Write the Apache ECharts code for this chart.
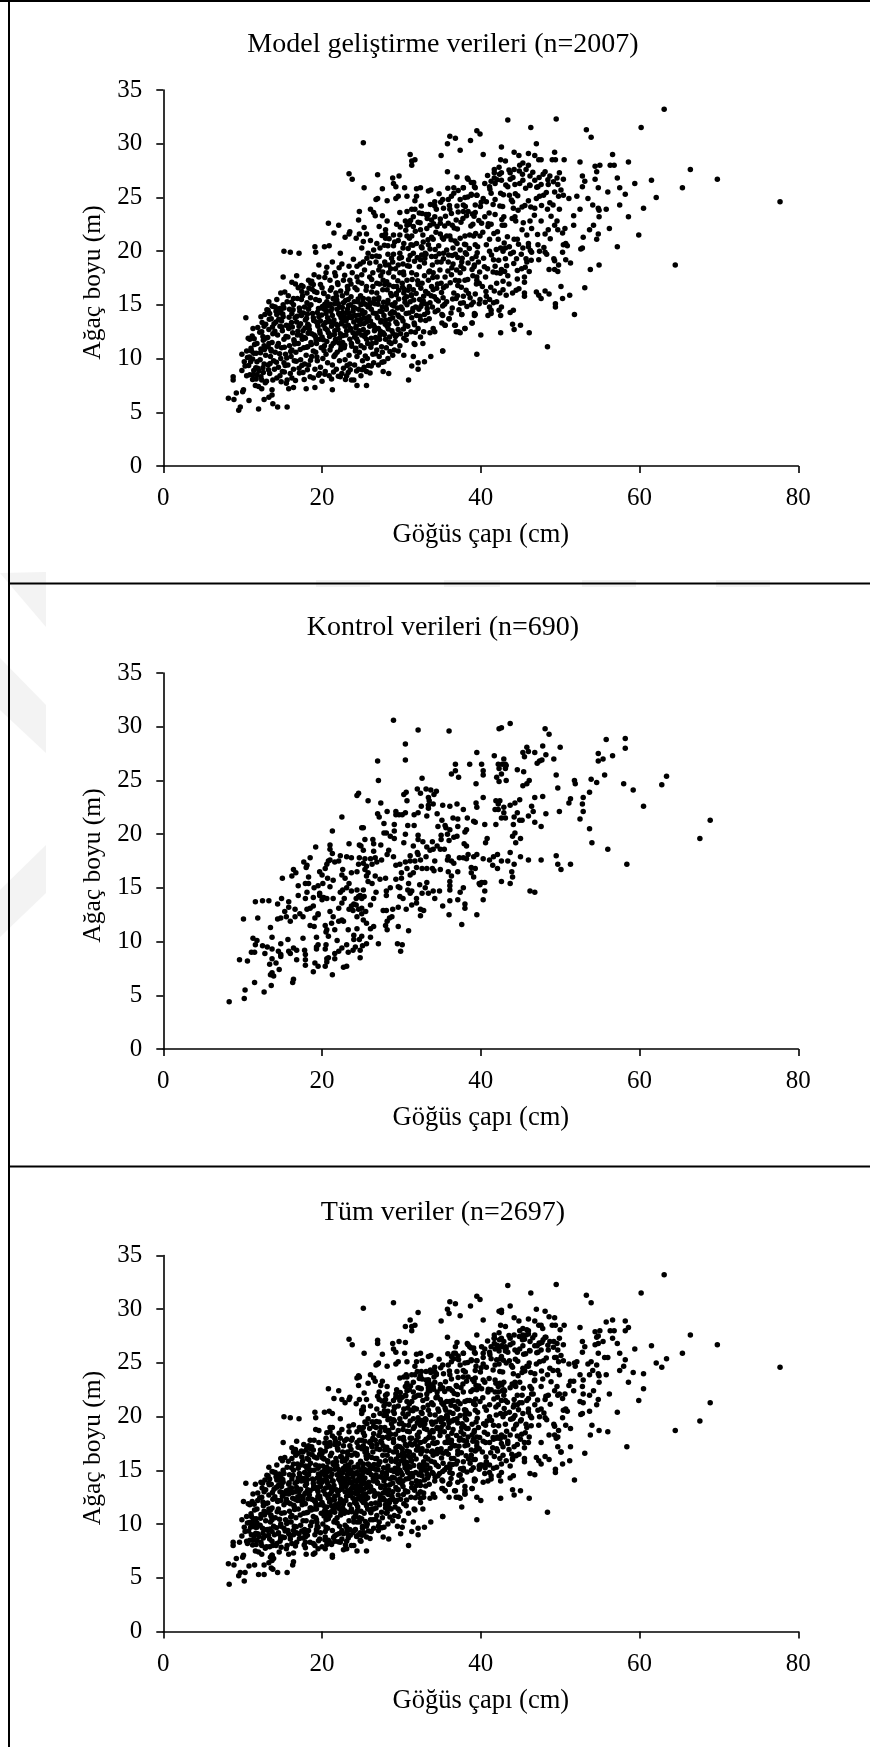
<!DOCTYPE html>
<html><head><meta charset="utf-8">
<style>html,body{margin:0;padding:0;background:#fff}#c{width:870px;height:1747px}</style>
<script src="https://cdn.jsdelivr.net/npm/echarts@6/dist/echarts.min.js"></script>
</head><body><div id="c"></div>
<script>
const titles = ["Model geliştirme verileri (n=2007)", "Kontrol verileri (n=690)", "Tüm veriler (n=2697)"];
const xName = "Göğüs çapı (cm)";
const yName = "Ağaç boyu (m)";

// Kontrol verileri: göğüs çapı (cm), ağaç boyu (m)
const kontrolPoints = [
[29,30.6],[32.1,29.7],[36,29.6],[30.5,28.4],[39.5,27.6],[27,26.8],[30.5,26.9],[36.8,26.5],[38.6,26.5],[36.3,25.6],[36.8,25.9],[37.2,25.3],[27.1,25],[32.6,25.2],[39.4,24.7],[32,24.2],[32.4,23.8],[33.1,24.2],[33.7,24.1],[34.4,24],[34.1,23.7],[24.4,23.6],[24.6,23.8],[25.8,23.1],[30.3,23.7],[30.6,23.9],[30.7,23.1],[27.4,22.9],[33.4,23.4],[33.5,23.1],[34,22.8],[32.5,22.6],[33.4,22.4],[33.4,22.7],[35.2,22.7],[36.1,22.6],[37,22.8],[37.8,22.3],[39.4,22.9],[39.5,22.5],[28.2,22.1],[27,21.9],[27.2,21.6],[29.3,22.1],[29.3,21.8],[29.7,21.8],[30.1,21.8],[30.5,22],[31.6,21.8],[32.1,22],[33.2,21.7],[34.5,21.9],[22.5,21.6],[35.1,21.3],[36.5,21.5],[37.1,21.4],[38.3,21.5],[39.1,21.2],[39.3,21.1],[27.8,21],[29.1,20.9],[30.8,20.8],[31.6,20.8],[25.2,20.6],[25,20.6],[34.6,20.7],[35.5,20.8],[35.6,20.6],[36.1,20.4],[37.1,20.7],[38.2,20.4],[38,20.2],[21.3,20.3],[27.8,20.1],[28.1,20.1],[29.1,20.3],[30.5,20],[28.6,19.8],[29.1,19.6],[32.1,19.9],[32.1,19.5],[35,19.9],[35,19.5],[35.8,20],[36,19.4],[36.6,19.7],[37,19.8],[25.4,19.5],[26.4,19.5],[26.5,19.1],[21,19],[21,18.6],[21.3,18.2],[19.2,18.8],[23.4,19.1],[24.7,19],[24.9,18.9],[25.2,18.5],[27.4,19],[30.3,19.2],[31.5,18.9],[32.7,19.3],[33.9,19.3],[33.2,18.8],[33.6,18.5],[34,18.6],[34.5,18.9],[34.9,18.6],[35.4,18.6],[37.9,19.1],[38.2,18.9],[26.5,18.4],[28.4,18.5],[28.2,18.1],[29,17.9],[32,18.3],[32.1,18.1],[31.1,18],[38.4,18.1],[39.5,18.1],[39.1,17.9],[18.5,17.8],[22.3,18],[23.1,17.9],[23.7,17.8],[24.7,17.8],[25.4,17.7],[26.1,17.7],[26.7,17.8],[27.5,17.6],[26.9,17.4],[21,17.6],[20.8,17.5],[20.6,17.2],[20.4,16.8],[21.6,17.4],[22.1,17.5],[33.1,17.9],[32.4,17.6],[35.9,17.9],[35.8,17.6],[36.3,17.5],[36.6,17.3],[37.3,17.8],[37.8,17.8],[38.2,17.7],[29.3,17.1],[29.8,17.2],[30.5,17.4],[31.1,17.5],[31.7,17.5],[34.2,17.5],[17.7,17.4],[18.1,17.1],[18,16.9],[24.6,17.2],[25.2,17.3],[25.6,17],[26.3,17.2],[25.4,16.7],[30.7,16.8],[31.9,16.9],[32.6,16.8],[33.2,16.8],[33.9,16.8],[34.1,16.6],[34.9,16.7],[16.4,16.7],[16.7,16.4],[16.2,16.1],[15,15.9],[18.3,16],[19.7,16.5],[20,16.2],[20.7,15.9],[21.4,15.7],[22.6,16.7],[22.5,16.2],[22.9,15.9],[23.4,15.4],[23.7,16.4],[24.4,16.5],[25.8,16.4],[25.6,16.1],[26.3,15.4],[25.8,15.6],[26.7,16.1],[27.3,15.8],[28,15.9],[30,16.4],[31.1,16.2],[31.5,16.4],[29.3,15.8],[30,15.9],[35.9,16.5],[36.3,16.1],[37.1,16.5],[38.8,16.9],[39.3,16.8],[38.8,16.4],[39.1,16],[39.8,15.4],[36.1,15.6],[36.1,15.2],[36.1,14.8],[37.8,15],[37.4,14.6],[17,15.2],[17.9,15.4],[18.3,15.4],[19,15],[19.5,15.2],[20.1,15.4],[21,15.1],[22.6,14.8],[23.1,15],[22.3,14.6],[24.4,14.8],[25.2,14.8],[24.8,14.3],[24.3,14],[23.7,14.7],[26.8,14.6],[26.5,14],[28.6,15],[28.1,14.7],[28.1,14.3],[29.6,15.1],[29.8,15],[30.9,15.4],[30.8,14.8],[31.3,14.7],[32.3,15.3],[33.2,15.5],[33,15],[32.6,14.5],[33.4,14.5],[34,14.7],[34.8,14.7],[17,14.3],[17.9,14],[18.1,14.6],[18.9,14.1],[19.7,14.3],[20.2,14.1],[20.6,14],[21.4,14],[22.8,14],[22.5,13.6],[22.1,13.1],[29.8,14.2],[30.2,14],[29.6,13.2],[30.6,13],[31.1,14.5],[31.9,14],[31.3,13.4],[31.9,13.6],[34.2,14],[36.1,13.8],[37.1,13.9],[35.2,13.3],[38,13.5],[38,13.1],[11.6,13.7],[12.5,13.8],[13.3,13.8],[14.4,13.5],[14.9,14],[15.8,13.7],[15.8,13.2],[15.3,12.8],[10.1,12.1],[11.9,12.2],[14.4,12.1],[14.8,12.2],[15.5,12.3],[16,11.9],[16.6,13],[16.6,12.3],[17.2,12.6],[17.6,12.3],[18.1,13],[18.5,13.1],[18.9,13.3],[19.1,12.2],[19.5,12.5],[19.5,12.6],[21,12.8],[21.4,12.3],[22.1,11.9],[22.7,11.9],[23.4,13],[23.9,12.9],[24.4,12.3],[25,12.6],[25.2,12],[26.1,13.4],[27.7,12.9],[28.1,12.9],[28.9,13],[28.8,12.3],[28.5,12.2],[28.2,11.9],[32.4,13],[32.8,12.9],[32.4,12.4],[36,12.5],[39.5,12.5],[37.6,11.6],[25.6,11.7],[26.5,11.4],[26.1,11.2],[28,11.5],[28.2,11.1],[29.6,11.4],[30.9,11],[13.5,11.3],[18.5,11.5],[19,11.4],[20.4,11.5],[20.6,11.1],[20.5,10.9],[20.8,10.5],[21.2,11.7],[21.6,11.1],[22.5,12],[23.3,11.1],[24.4,11.2],[11.3,10.3],[11.8,10.1],[11.6,9.7],[13.7,10.4],[15.7,10.2],[14.8,9.8],[17.6,10.3],[19.3,10.4],[24,10.6],[25,10.5],[24,10.2],[24.7,10.2],[26.1,10.4],[21.9,10.1],[23.1,9.7],[19.5,9.7],[20.5,9.7],[25.6,9.8],[25.1,9.6],[27.1,9.8],[29.5,9.8],[30.1,9.7],[29.9,9.1],[12.5,9.6],[13.1,9.5],[11.1,9],[11.5,9],[12.8,8.9],[13.7,9.3],[14.5,9.1],[14.8,8.8],[15.8,9.1],[16,8.9],[16.4,9.4],[16.8,9.2],[16.8,8.3],[17.8,9.2],[17.9,8.8],[19.3,9.3],[20.4,9.3],[19.3,9.5],[21.6,8.9],[22.1,9.1],[22.5,9.4],[21.6,8.4],[20.6,8.4],[20.8,8.5],[23.3,9],[23.9,9.2],[24.8,9.2],[24.8,8.5],[24.2,9.5],[9.6,8.3],[10.6,8.2],[13.7,8.4],[13.4,7.9],[14.2,8],[14.8,8.6],[17.9,8.3],[17.9,7.8],[19.1,8],[19.5,7.7],[18.9,7.2],[20.6,8.1],[20.4,7.7],[14.6,7.4],[13.7,7.1],[13.9,6.8],[13.5,6.9],[21.3,6.9],[22.7,7.6],[23.1,7.7],[16.4,6.5],[16.3,6.2],[11.5,6.2],[10.3,5.5],[12.7,5.3],[13.6,5.9],[10.2,4.7],[8.3,4.4],
[19.7,14.5],[20,13.9],[24.6,14.2],[25,14],[25.3,14.2],[24,13.5],[23.7,13.3],[24.3,13.4],[24.6,13],[25,13.1],[25.5,12.8],
[42.3,29.8],[42.6,29.9],[43.7,30.3],[48.1,29.8],[48.6,29.3],[55.8,28.8],[58.2,28.9],[58.2,28],[41.7,27.3],[45.3,27.6],[45.8,28.1],[46,27.7],[46.8,27.6],[45.5,27.2],[47.8,28.2],[48.2,27.4],[50,28.1],[49.2,27],[47.7,26.9],[47.4,26.8],[47.1,26.6],[42.9,27],[42.2,26.5],[42.3,26.1],[42.7,26.5],[43.1,26.5],[43.2,26.4],[43.1,26.1],[54.8,27.5],[55.4,27],[54.8,26.8],[56.6,27.3],[44.6,26],[45.4,25.8],[42.6,25.6],[42,25.3],[42.3,24.9],[43.2,25],[40.1,26.5],[40.3,25.9],[40.3,25.5],[49.5,25.5],[45.3,24.5],[45.8,24.7],[46.1,25],[49.7,24.3],[51.8,25],[51.9,24.7],[53.9,25.1],[54.6,24.8],[55.6,25.5],[58,24.7],[59.2,24.1],[62.8,24.6],[63.4,25.4],[40.3,23.4],[41.9,23.1],[42.4,23.1],[42.2,22.8],[44.9,23.2],[44.3,22.9],[43.7,22.7],[46.8,23.4],[47.8,23.5],[51.3,23.3],[51.1,22.9],[52.9,23.4],[52.8,22.8],[53.7,23.9],[52.9,22.1],[52.5,21.4],[60.5,22.6],[68.9,21.3],[67.6,19.6],[41.8,22.3],[42.2,22.3],[42.9,22.5],[42.9,22],[42.6,21.5],[43.1,21.5],[44.2,21.6],[44.6,22],[46.4,22.6],[46.6,22.1],[46,21.7],[44.9,21.3],[45.2,21.3],[48.2,21.9],[49.9,22.1],[46.8,21.1],[47.6,20.7],[41.9,20.9],[44.1,20.9],[40.5,20.9],[53.7,20.5],[54,19.2],[56,18.6],[58.4,17.2],[44.3,20.1],[44,19.8],[45,19.6],[44.4,19.2],[40.8,19.6],[40.6,19.2],[42.1,18.1],[41.6,17.9],[43.7,18.3],[45,17.9],[46,17.6],[47.6,17.6],[49.5,18],[49.7,17.2],[50.1,16.7],[51.3,17.2],[42.6,17.5],[43.4,17.5],[44.2,17.2],[41.5,17.1],[42.1,16.8],[41.1,17.6],[40.3,17.7],[43.9,16.5],[44,16],[43.7,15.4],[42.6,15.6],[40.5,15.5],[40.1,15.5],[39.9,15.3],[40.5,14.7],[40.3,13.9],[46.2,14.7],[46.8,14.6]
];

// Model geliştirme verileri: seyrek bölge
const modelOuterPoints = [
[63.1,33.2],[60.2,31.5],[43.4,32.2],[49.5,32.3],[46.3,31.5],[53.3,31.3],[53.9,30.6],[47,30],[42.6,29.7],[40.3,29],[44.2,29.2],[44.8,28.9],[46,29.1],[46.8,28.9],[47.3,28.5],[47.6,28.5],[49.3,29.2],[49,28.5],[49.4,28.5],[50.5,28.5],[52.5,28.3],[56.6,29],[56.3,28],[56.8,28],[58.6,28.3],[54.4,27.9],[55,28],[54.6,27.4],[54.4,26.7],[52.8,27],[53.1,26.5],[52.8,26],[57.2,26.8],[57.5,25.9],[58.2,25.3],[56,25.5],[59.4,26.3],[61.5,26.6],[62.1,25],[66.4,27.6],[69.8,26.7],[65.4,25.9],[77.7,24.6],[60.5,24],[58.6,23.2],[57.5,24.3],[59.9,21.5],[64.5,18.7],[54.8,25.9],[54.8,24],[54.9,23.8],[55.8,23.9],[54.9,23.2],[54.1,24.3],[53.5,24.9],[52.1,25.1],[51.1,24.9],[52.5,23.9],[51.7,23.3],[51.7,22.4],[53.7,22],[54.2,22.4],[54.8,21.6],[54.6,21.1],[56.2,22.1],[52.9,21.3],[52.6,20.2],[52.8,20.3],[57.2,20.4],[54.9,18.7],[53.8,18.3],[53.1,16.6],[50.1,16.7],[51.2,15.9],[50.3,15.6],[49.4,15.1],[49.4,14.8],[51.8,14.1],[48.4,11.1],[46.1,12.4],[45,13.1],[44.2,12.7],[44,13.2],[42.5,12.4],[40,12.2],[39.5,10.4],[35.2,10.7],[50.4,20.6],[50.7,20.7],[50.9,20.5],[50.3,19.9],[49.2,19.3],[49.3,19.1],[50.7,19.2],[51.3,18.9],[49.8,18.7],[48.6,18.3],[49.3,18.3],[49.7,18.1],[47,16.2],[47.3,15.9],[47.6,15.6],[48.1,16.3],[48.6,16],[45.5,16.1],[45.5,15.8],[44.8,16.5],[44,16.1],[43.2,15.9],[42.8,16.4],[42.4,16.1],[41.7,16.3],[45.5,17.6],[45.5,17.1],[44.6,17.4],[44.6,18.2],[45.6,18.5],[46.1,18.1],[45.8,19],[45.7,19.3],[47.3,19.2],[44.5,19.3],[43.1,19.3],[42.8,17.2],[42,17],[44.1,14.5],[43.7,14.3],[42.5,14],[40.9,14],[41.3,14.2],[41.6,15.2],[42,15.3],[42.6,14.8],[42.3,14.5],[41.1,14.8],[41.3,14.5],[40.7,15.8],[41.1,15.5],[39.9,15.5],[39.8,15.1],[38.8,15],[39.2,14.2],[39.2,14],[38.9,13.3],[38,12.8],[37.6,14.1],[36.7,13.1],[37.4,12.4],[36.9,12.5],[36,13.7],[35.5,13.1],[35.2,14],[40.6,17.6],[40.2,16.7],[39.8,17],[39.5,17.6],[41.1,20],[41.6,19.2],[41.8,18.6],[42,18],[42.6,18.3],[43,18.1],[43.4,17.7],[43.1,20.3],[43.6,20.4],[44.1,19.9],[42.5,20.3],[42.8,20],[44.2,21.1],[44.6,21.1],[42.2,21.1],[39.9,21.4],[40.7,20.6],[41.1,21.1],[46,20.7],[46,20.4],[45.3,20.3],[46.4,19.9],[45.1,19.7],[47.2,20.6],[47.4,20],[48.1,19.9],[48.3,19.7],[45.2,22],[45.8,21.5],[46.2,22.8],[46.4,22.1],[47.6,22.8],[48.1,21.6],[48.5,22],[49.3,22.4],[49.6,22.8],[49.7,22],[50.3,21.7],[50.6,22.1],[42.9,23.2],[44.3,23.2],[44.4,22.8],[43,22.4],[42.7,22.4],[42.1,21.8],[41.8,23.4],[41.3,22.5],[40.9,22.3],[40.5,23.2],[40.1,22.6],[43.6,25.2],[44,24.6],[44.1,24],[44.7,23.8],[45.2,24.1],[46,24.7],[46.3,24.1],[46.8,24],[47,24.9],[47.4,25.1],[47.9,25.2],[48.4,23.9],[48.7,24.5],[49.1,24.3],[49.9,23.9],[49.8,25.1],[50.4,25.2],[49.3,25.5],[50.1,25.7],[49.7,26.2],[49.6,26.8],[50.4,26.7],[49.9,27.3],[48.7,27],[48.1,27.4],[47.6,26.2],[48.5,26.2],[47.2,26],[46.2,26.1],[46.8,26.6],[46.2,27],[45.3,26.6],[44.9,26.3],[44.3,26.2],[43.4,26],[44.9,28],[45.3,28.2],[46,28],[45.7,27.6],[44.2,27.6],[43.7,27.3],[43.7,26.7],[42.5,28.5],[43.1,28.4],[42.3,27.8],[41.7,27.6],[41.7,27.3],[41.7,26.8],[41.3,26.5],[41.8,26.3],[42.6,26.6],[42.6,27.3],[40.5,26.3],[41.1,26],[39.2,26],[38.3,26.8],[38.8,26.4],[37,26.9],[35.8,27.4],[37.8,25.9],[37.4,29.4],[36.8,30.5],[36.1,30.7],[35.8,30],[35,28.9],[38.7,30.3],[39.5,31.2],[39.9,30.9],[41.3,25.4],[42.5,25.4],[40.3,24.9],[39.5,25.2],[38.8,25.2],[40.7,24.6],[41.8,24.8],[42.4,24.2],
[25.2,30.1],[31.1,29],[31.7,28.5],[31.3,28.4],[31.3,28],[23.4,27.2],[23.8,26.7],[27,27.1],[29.7,27],[28.9,26.8],[29,26.3],[29.3,26],[25.3,25.9],[27.6,25.8],[30.4,25.9],[31.9,25.8],[32.4,25.9],[33.4,25.6],[33.7,25.7],[38.4,26.7],[39.1,26.4],[39.3,25.9],[36.6,25.9],[37.8,25.9],[36.6,25.4],[30.7,25.1],[31.9,25.1],[31.7,24.7],[29.6,25.1],[29.3,24.9],[27,24.9],[26.8,24.8],[28.2,24.7],[38,25],[37.4,24.8],[36.3,25.1],[35.9,24.8],[35.2,24.8],[34.2,24.6],[34.2,24.2],[34.4,23.9],[35.3,24],[36.1,23.9],[37,24.2],[37.8,24.3],[38.8,25.3],[39.5,25.2],[39.3,24.3],[38.4,23.7],[37.8,23.7],[32.5,24.2],[31.3,23.9],[31.7,23.9],[29.8,23.6],[30.7,23.7],[26.1,23.9],[24.7,23.7],[26.5,23.6],[26.7,23.3],[27.6,23.3],[28.2,22.8],[24.6,22.9],[32.6,23.5],[33.4,23.4],[33.8,22.9],[31.5,23.2],[30.5,22.8],[29.4,22.5],[30.7,22.4],[34.9,23],[35.9,22.6],[36.9,22.9],[34.5,22.3],[33.2,22.1],[32.4,22],[31.5,22.3],[20.8,22.6],[22.1,22.4],[21.5,21.7],[25.3,22.2],[27.2,22.3],[23.5,21.8],[23.4,21.6],[22.9,21.3],[24.7,21.6],[24.3,21.2],[28,22],[28,21.6],[28,21.2],[29,21.5],[29.6,21],[29,20.5],[25.6,21.6],[25.2,20.9],[26.1,21],[26.9,20.7],[27.3,20.3],[25,20.3],[30.7,21.4],[30.3,20.7],[31.3,21.4],[31.9,20.7],[32.6,20.3],[33.4,20.6],[34,21.1],[35.3,21.1],[36.1,21.4],[37,20.7],[38,21.4],[39.1,21.4],[39.3,20.6],[35.7,20.1],[37.4,20.1],[15.2,20],[16,19.9],[17.1,19.8],[19.1,20.4],[19.2,19.9],[20.3,20.4],[20.9,20.5],[22.3,19.8],[25.8,19.8],[26.5,20.1],[26.3,19.5],[25.2,19],[24.4,18.6],[26,18.9],[19.6,18.7],[21.3,19],[20.6,18.5],[22.5,18.8],[23.4,18.6],[27.9,19],[28.4,18.7],[27.3,18.6],[29,19.7],[29.8,19.8],[29.6,18.7],[30.9,19.2],[31.5,19.8],[32.4,19.2],[33,19.8],[33.8,19.5],[34.5,19],[35.3,19.8],[35.9,19],[36.8,19.7],[37.6,19],[38.9,19.3],[39.7,19],[15.1,17.6],[16.8,17.7],[19.6,17.6],[16.2,17.1],[18.3,17.3],[18.7,17.2],[18.9,16.9],[21.6,18],[21,17.3],[22.7,17.3],[23.5,17.3],[24.4,17.6],[26,17.6],[26.9,17],[27.7,17.3],[29,17.6],[29.8,18],[30.7,17.3],[31.9,17.8],[32.6,17],[33.4,17.3],[34.5,17.6],[35.5,17.6],[36.8,17.3],[38,17.3],[38.9,18.3],[39.5,17.3],[14.8,16.1],[15.3,16.2],[17,16.6],[17.6,16.7],[19.8,16.9],[18.1,16.1],[16.4,15.6],[17.4,15.5],[20.2,16.1],[21.2,16.6],[21.8,15.8],[23.1,16.1],[24.4,16.4],[25.6,16.7],[26.9,16.1],[28.2,16.4],[29.4,16.7],[30.3,16.1],[31.5,16.4],[32.8,15.8],[34,16.4],[35.3,16.6],[36.6,16.1],[37.8,15.8],[39.3,16],
[13.3,15.3],[13.2,14.5],[13.4,14.2],[14.1,14.8],[15.1,15],[14.8,14.5],[14.2,14.4],[10.4,13.8],[12.3,13.9],[14.3,14.1],[11.3,12.8],[12.7,13],[10.7,11.9],[10.9,11.8],[11.8,11.4],[12.7,11.2],[13.3,11.4],[9.9,10.4],[10.5,10.7],[11.1,10.7],[11.7,10.5],[10.2,9.7],[9.9,8.9],[10.5,8.4],[11.8,9.7],[8.8,8.3],[8.8,8],[11.3,8.5],[11.8,8.5],[12.4,8],[11.6,7.5],[12,7.4],[12.4,7.2],[10.1,7.1],[10,6.9],[9.2,6.8],[8.2,6.3],[8.9,6.2],[10.8,6.1],[9.7,5.5],[9.5,5.2],[12,5.3],[12.7,6.2],[13.3,6.4],[13.7,6.6],[13.7,7.1],[13.8,5.8],[14.4,5.5],[15.6,5.5],[13.8,8],[15.5,7.7],[15.8,7.2],[16.4,7.3],[18,7.2],[19.1,7.3],[16.2,8.2],[21.3,7.1],[24,8],[24.4,7.5],[25.6,7.5],[22.3,8.3],[23.1,8.4],[30.9,8],[28.4,8.6],[27.7,8.8],[27.1,9.4],[31.5,10.2],[31.3,9.3],[32.1,9.6],[32.1,9],[32.9,9.7],[33.7,10.2],[35.2,10.7],[30.3,10.3],[29.6,10.7],[32.7,11.4],[31.6,11.4],[31.7,11.3],[32.4,12],[32.8,12.5],[34,12.8],[34.2,12.5],[33.6,12.4],[35.1,13.3],[35.5,13.1],[36,13.7],[35.1,14.1],[36.8,13.1],[37.2,12.5],[38,12.8],[38.9,13.3],[37.6,14.1],[39.3,14.1]
];

// Model geliştirme verileri: yoğun bölge
const modelCorePoints = [
[14.3,15.5],[15.6,15.3],[16.9,15.6],[18.1,15.2],[19.2,15.5],[20.6,15.3],[21.4,15.6],[22.7,15.2],[23.3,15.5],[24.5,15.3],[25.2,15.6],[26.4,15.2],[27.1,15.5],[28.3,15.4],[29.2,15.2],[30.4,15.6],[31.1,15.3],[32.3,15.5],[33.6,15.2],[34.4,15.5],[35.7,15.3],[36.9,15.6],[37.8,15.2],
[13.7,14.9],[15.2,14.7],[16.4,15],[17.8,14.8],[18.6,15],[19.9,14.7],[20.7,14.9],[21.6,15.1],[22.2,14.8],[23.6,15],[24.1,14.7],[24.9,15],[25.8,14.8],[26.7,15.1],[27.6,14.8],[28.8,15],[29.5,14.7],[30.7,15],[31.8,14.8],[32.6,15.1],[33.9,14.8],[35.2,14.9],[36.4,14.7],
[14.7,14.3],[15.9,14.6],[17.2,14.4],[18.3,14.6],[19.4,14.3],[20.3,14.6],[21.1,14.4],[21.9,14.6],[22.6,14.3],[23.2,14.6],[23.9,14.4],[24.6,14.6],[25.4,14.3],[26.2,14.6],[27.3,14.4],[28.1,14.6],[29.1,14.3],[30.1,14.6],[31.4,14.4],[32.2,14.6],[33.3,14.3],[34.6,14.5],
[12.8,14.1],[15.1,13.9],[16.2,14.2],[17.4,14],[18.8,14.2],[19.6,13.9],[20.5,14.2],[21.3,14],[22.1,14.2],[22.8,13.9],[23.4,14.2],[24.2,14],[25.1,14.2],[25.9,13.9],[26.8,14.2],[27.8,14],[28.6,14.2],[29.7,13.9],[30.6,14.2],[31.9,14],[32.9,14.1],
[13.6,13.7],[14.9,13.5],[16.6,13.8],[17.9,13.6],[18.9,13.8],[19.8,13.5],[20.7,13.8],[21.5,13.6],[22.4,13.8],[23,13.5],[23.7,13.8],[24.4,13.6],[25.3,13.8],[26.1,13.5],[27,13.8],[28,13.6],[28.9,13.8],[30.2,13.5],[31.3,13.8],[32.4,13.6],[33.5,13.7],
[12.9,13.2],[14.2,13.4],[15.5,13.1],[16.8,13.4],[18.2,13.2],[19.3,13.4],[20.2,13.1],[21,13.4],[21.8,13.2],[22.5,13.4],[23.3,13.1],[24,13.4],[24.8,13.2],[25.6,13.4],[26.5,13.1],[27.4,13.4],[28.4,13.2],[29.3,13.4],[30.5,13.1],[31.6,13.3],
[11.9,12.9],[13.3,12.7],[14.7,13],[15.8,12.8],[17.1,13],[18.4,12.7],[19.5,13],[20.4,12.8],[21.2,13],[22,12.7],[22.9,13],[23.6,12.8],[24.3,13],[25.2,12.7],[26,13],[27.1,12.8],[28.2,13],[29.6,12.7],[30.8,13],[32.1,12.8],
[12.4,12.5],[13.8,12.3],[15,12.6],[16.3,12.4],[17.6,12.6],[18.7,12.3],[19.7,12.6],[20.8,12.4],[21.6,12.6],[22.3,12.3],[23.1,12.6],[23.9,12.4],[24.7,12.6],[25.5,12.3],[26.6,12.6],[27.7,12.4],[28.8,12.6],[29.9,12.3],[31.2,12.5],
[11.2,12.1],[12.9,11.9],[14.4,12.2],[15.7,12],[16.9,12.2],[17.9,11.9],[19,12.2],[20,12],[21.1,12.2],[22.2,11.9],[23,12.2],[24.1,12],[25,12.2],[26.2,11.9],[27.3,12.2],[28.5,12],[29.4,12.2],[30.3,11.9],
[12.6,11.7],[13.7,11.5],[15.2,11.8],[16.5,11.6],[17.5,11.8],[18.6,11.5],[19.7,11.8],[20.6,11.6],[21.7,11.8],[22.6,11.5],[23.5,11.8],[24.5,11.6],[25.6,11.8],[26.8,11.5],[28,11.8],[29.2,11.6],[30.6,11.7],
[11.5,11.3],[13.2,11.1],[14.5,11.4],[15.9,11.2],[17,11.4],[18.2,11.1],[19.3,11.4],[20.3,11.2],[21.4,11.4],[22.4,11.1],[23.7,11.4],[24.9,11.2],[26.3,11.4],[27.5,11.1],[28.7,11.4],[29.8,11.2],
[12.3,10.9],[13.6,10.7],[14.9,11],[16.2,10.8],[17.7,11],[18.9,10.7],[19.9,11],[21,10.8],[22.8,11],[24.2,10.7],[25.3,11],[26.9,10.8],[28.1,11],[29.1,10.8],
[11.4,10.5],[12.9,10.3],[14.1,10.6],[15.4,10.4],[16.7,10.6],[18,10.3],[19.2,10.6],[20.5,10.4],[21.9,10.6],[23.4,10.3],[24.7,10.6],[26.4,10.4],[27.6,10.6],[28.9,10.3],
[10.6,10.1],[12.2,9.9],[13.5,10.2],[14.8,10],[16.1,10.2],[17.3,9.9],[18.7,10.2],[20.1,10],[21.5,10.2],[22.9,9.9],[24.4,10.2],[25.7,10],[27.2,10.2],[28.3,10],
[11,9.7],[12.7,9.5],[13.9,9.8],[15.2,9.6],[16.5,9.8],[17.8,9.5],[19.4,9.8],[20.7,9.6],[22.2,9.8],[23.5,9.5],[25.1,9.8],[26.5,9.6],[27.8,9.7],
[10.3,9.3],[11.9,9.1],[13.2,9.4],[14.5,9.2],[15.7,9.4],[17.1,9.1],[18.3,9.4],[19.8,9.2],[21.3,9.4],[22.7,9.1],[24.1,9.4],[25.3,9.2],[26.2,9.3],
[11.4,8.9],[12.6,8.7],[14,9],[15,8.8],[16.4,9],[17.6,8.7],[19.1,9],[20.4,8.8],[21.8,9],[23.3,8.7],[24.6,9],[25.6,8.8],
[10.9,8.5],[12.3,8.3],[13.4,8.6],[14.7,8.4],[16,8.6],[18.5,8.3],[19.7,8.6],[20.9,8.4],[22.5,8.6],[24.9,8.4],
[11.7,8.1],[13,7.9],[14.3,8.2],[15.6,8],[18.9,8.2],[20,7.9],[21.2,8.1],[23.7,8],
[17.4,16.8],[18.6,17],[20,16.6],[22,16.9],[23.2,16.7],[25,17],[26.4,16.7],[27.9,16.9],[29,16.7],[30.1,17],[31,16.7],[32.1,16.9],[33.8,16.7],[35,17],[37.1,16.8],
[19,17.8],[20.5,18],[21.7,17.7],[23.8,18],[25,17.8],[26.4,18],[27.4,17.7],[28.4,18],[30.3,17.8],[31.3,18],[32.9,17.7],[34,18],[36.3,17.8],[37.4,18],[39,17.7],
[24.8,18.8],[26.8,19],[28,18.7],[28.9,19],[30.2,18.8],[31,18.6],[32.9,18.9],[33.9,18.7],[35,19],[36.5,18.8],[37.5,18.6],[38.4,18.9],[39.2,18.7],
[27.2,19.5],[28.3,19.7],[30,19.4],[31.1,19.6],[32,19.4],[33.1,19.7],[34.3,19.5],[35.3,19.3],[36.4,19.6],[37.1,19.4],[38.2,19.7],[39.4,19.5],
[28.3,20.5],[30.2,20.3],[31.2,20.6],[32.5,20.4],[33.6,20.2],[34.7,20.5],[36.5,20.3],[38.1,20.6],[39.6,20.4],
[29.8,21.5],[31,21.2],[32.7,21.5],[33.8,21.3],[34.9,21.6],[35.7,21.4],[37.4,21.2],[38.6,21.5],
[31,22.5],[32.1,22.7],[33.6,22.4],[34.9,22.6],[36.4,22.4],[37.5,22.7],[39,22.5],
[33.1,23.4],[34.2,23.2],[36.3,23.5],[38.2,23.3],[39.3,23.6]
];

// Model geliştirme verileri: siyah kümelerin içi
const modelFillCenter = [
[17.3,13.25],[18.45,14.95],[19.15,12.05],[20.75,15.75],[21.95,13.05],[22.35,16.3],[23.15,14.25],[24.85,15.85],[25.65,13.75],[26.25,16.2],[27.55,14.35],[28.75,15.85],[29.45,13.25],[18.95,13.55],[20.15,11.75],[21.25,14.65],[22.65,12.15],[23.85,13.95],[24.35,11.85],[25.95,14.95],[26.65,12.9],[27.95,13.2],[28.45,11.55],[29.95,14.8],[17.75,11.95],[18.25,12.35],[19.65,15.4],[20.45,13.35],[21.75,16.1],[22.95,15.4],[23.55,12.65],[24.15,16.6],[25.35,12.05],[26.05,15.2],[27.25,11.8],[28.95,12.3],[17.15,14.7],[18.65,11.3],[19.95,14.05],[20.95,12.05],[22.05,15.1],[23.05,13.65],[24.05,15.3],[24.75,13.4],[25.75,11.4],[26.95,13.9],[27.65,16.4],[29.05,14.9],
[16.15,13.35],[17.55,15.85],[18.05,13.75],[19.05,16.25],[20.05,14.85],[20.85,13.55],[21.55,12.25],[22.25,14.05],[22.85,11.25],[23.65,15.75],[24.25,12.85],[25.05,14.45],[25.55,16.35],[26.35,13.15],[27.05,15.05],[27.85,12.25],[28.55,13.65],[29.65,15.55],[30.25,12.75],[30.95,14.25],[16.55,11.35],[17.85,12.85],[18.55,15.65],[19.45,13.15],[20.25,16.05],[21.05,15.05],[21.65,11.55],[22.45,13.25],[23.25,16.45],[23.95,14.75],[24.55,15.55],[25.25,13.25],[25.85,15.55],[26.75,11.95],[27.45,13.55],[28.25,15.15],[29.25,12.05],[30.05,13.75],[31.25,15.95],[16.95,12.55],[18.15,14.15],[18.75,16.45],[19.75,12.35],[20.55,14.45],[21.35,13.25],[21.85,15.45],[22.55,14.75],[23.45,13.85],[24.65,14.05],[25.45,15.05],[26.45,14.25],[27.35,12.55],[28.05,14.75],[28.65,16.05],[29.55,14.05],[30.45,15.25],[31.65,13.15],[17.65,14.25],[19.25,11.75],[20.65,12.65],[21.45,15.55],[22.15,11.45],[22.75,13.55],[23.35,14.95],[24.45,12.35],[25.15,15.25],[25.75,12.45],[26.55,15.55],[27.75,15.25],[28.35,12.75],[29.35,15.95],[30.65,12.25],[31.45,14.65],[32.35,13.95],[33.15,15.05],[16.35,14.55],[18.35,13.05],[19.55,14.65],[20.35,15.05],[21.15,11.15],[22.55,15.85],[23.75,11.15],[24.95,13.65],[26.15,11.05],[27.15,15.65],[28.85,14.35],[30.35,16.45],[31.75,12.45],[33.05,13.55],[34.15,15.75],[17.25,10.85],[18.05,11.05],[19.35,10.15],[20.25,10.75],[21.65,10.35],[22.35,10.85],[23.15,9.35],[24.25,10.95],[25.45,10.25],[26.75,10.45],[27.55,9.65],[28.55,10.65],
[12.15,12.45],[13.05,14.55],[13.75,12.95],[14.35,11.15],[15.05,14.15],[15.45,12.05],[16.05,10.65],[12.75,10.85],[13.45,9.55],[14.05,12.55],[14.65,10.45],[15.35,9.35],[15.85,13.85],[16.45,11.75],[11.65,9.15],[12.25,10.55],[13.15,11.95],[13.85,14.85],[14.55,13.65],[15.25,11.05],[15.75,15.85],[16.75,9.75],[17.45,9.35],[18.15,8.95],[11.05,10.95],[12.55,12.05],[13.55,10.85],[14.25,9.65],[14.95,12.95],[15.55,10.05],[16.25,12.95],[17.15,8.65],[18.55,9.85],[19.55,8.45],[10.75,9.35],[11.25,8.05],[12.05,8.85],[12.85,7.75],[13.25,8.95],[14.85,7.85],[15.25,8.75],[16.65,7.95],[17.75,8.05],[20.35,8.55],[21.45,8.75],[22.05,8.35],[22.95,8.05],[23.55,8.95],[24.35,8.85],[25.05,8.95],[25.85,9.35],[26.05,8.65],
[13.95,13.25],[14.65,14.65],[15.65,13.05],[16.15,15.25],[16.85,13.95],[17.35,12.15],[13.35,13.65],[12.45,13.35],[11.45,11.85],[10.85,10.15],[11.25,9.95],[12.55,9.15]
];
const modelFillUpper = [
[28.15,17.15],[29.25,18.35],[30.15,16.65],[31.35,17.35],[32.25,18.55],[33.05,16.25],[33.95,17.55],[34.85,18.25],[35.65,16.75],[36.35,18.45],[37.25,17.25],[38.15,16.35],[29.75,19.35],[30.85,20.25],[31.65,19.05],[32.75,20.85],[33.55,18.15],[34.25,20.15],[35.15,21.25],[35.95,19.65],[36.75,20.95],[37.65,19.35],[38.55,20.25],[39.15,18.55],[30.55,21.95],[31.45,20.55],[32.35,22.65],[33.35,21.05],[34.05,22.55],[34.75,19.75],[35.45,22.35],[36.25,21.05],[37.05,22.05],[37.95,20.65],[38.75,22.35],[39.35,21.65],[29.35,16.05],[30.25,18.05],[31.25,15.85],[32.05,17.25],[32.95,19.35],[33.75,15.85],[34.55,16.95],[35.25,15.65],[36.15,17.05],[37.05,15.85],[37.85,18.35],[38.65,15.65],[39.45,16.95],[28.65,18.35],[29.15,20.85],[30.75,18.65],[31.75,21.85],[32.55,19.65],[33.25,23.05],[34.35,21.75],[35.55,23.25],[36.65,22.15],[37.75,23.05],[38.95,23.45],[39.75,22.85],[27.15,18.25],[27.85,20.55],[28.75,19.35],[29.55,17.25],[30.65,15.75],[31.85,16.05],[32.45,16.55],[33.45,18.05],[34.65,15.35],[35.85,18.15],[36.95,18.25],[38.05,19.85],[39.55,19.85],[26.25,17.35],[26.85,19.55],[27.65,18.05],[25.35,18.25],[24.55,17.15],[23.65,16.95],[22.85,17.75],[21.95,17.05],[21.05,16.35],[20.35,17.55],[19.35,16.15],[18.35,16.55],[17.45,16.25],[16.65,16.95],[22.15,18.45],[23.95,19.25],[25.65,19.35],[27.55,21.45],[28.45,21.15],[29.85,22.25],[31.15,22.85],[32.25,23.55],[33.65,24.35],[34.95,24.55],[36.05,24.25],[37.15,23.65],[35.05,16.15],[36.45,15.55],[37.55,16.65],[38.35,17.35],[34.45,16.55],[33.35,16.05],[32.75,15.35],[31.55,15.45],[30.85,16.35],[29.65,16.35],[28.45,16.85],[27.25,16.95],[39.85,18.05],[40.35,19.35],[40.85,18.35],[41.25,16.65],[40.55,15.25],[38.25,14.85],[37.25,14.55],[36.25,14.25],[35.45,15.05],[34.25,14.35],[33.25,14.65],[32.45,14.85],[39.05,15.25],[38.45,16.05],[37.45,15.15]
];
const modelFillRight = [
[41.15,25.75],[42.05,26.65],[42.85,25.25],[43.55,27.55],[44.35,25.35],[45.25,27.15],[46.15,26.15],[47.05,25.95],[47.85,27.15],[48.45,26.65],[42.35,27.15],[43.15,26.15],[44.05,26.85],[44.85,27.45],[45.65,25.85],[46.55,27.35],[47.35,26.85],[48.25,25.45],[49.15,26.45],[40.85,27.05],[41.55,24.35],[42.75,24.15],[43.85,24.75],[44.65,25.15],[45.55,24.25],[46.75,23.35],[47.65,24.25],[48.85,23.25],[40.25,21.75],[41.05,23.55],[41.95,20.15],[42.65,22.95],[43.35,21.35],[43.95,23.05],[44.75,20.65],[45.35,22.65],[46.25,20.05],[47.15,21.55],[47.95,20.35],[48.75,21.15],[40.45,18.55],[41.35,19.65],[42.25,19.15],[43.25,18.65],[44.15,18.85],[45.15,18.35],[46.35,19.15],[40.65,16.25],[41.55,18.05],[42.45,17.95],[43.55,16.95],[44.45,16.35],[39.95,24.15],[38.35,25.05],[37.15,25.65],[35.85,25.85],[34.75,25.35],[38.05,24.15],[39.15,23.25],[40.05,24.55],[40.95,22.55],[41.65,21.65],[42.95,20.75],[43.75,19.75]
];

const modelPoints = modelCorePoints.concat(modelOuterPoints, modelFillCenter, modelFillUpper, modelFillRight);
const tumPoints = modelPoints.concat(kontrolPoints);
const panelData = [modelPoints, kontrolPoints, tumPoints];

const FONT = '"Liberation Serif", "Times New Roman", serif';
const panels = [
  {top: 90, titleY: 26},
  {top: 673, titleY: 609},
  {top: 1255.5, titleY: 1194}
];
const GRID_H = 376;

const wm = '#f3f3f3';
const poly = pts => ({type:'polygon', shape:{points:pts}, style:{fill:wm}, silent:true});
const rect = (x,y,w,h,fill) => ({type:'rect', shape:{x,y,width:w,height:h}, style:{fill}, silent:true});

const chart = echarts.init(document.getElementById('c'), null, {renderer:'canvas'});
chart.setOption({
  animation:false,
  backgroundColor:'#fff',
  graphic:[
    poly([[0,573],[46,572],[46,627]]),
    poly([[0,658],[46,705],[46,753],[0,710]]),
    poly([[46,845],[46,893],[0,937],[0,890]]),
    rect(316,580,54,7,wm), rect(444,580,56,7,wm), rect(582,580,54,7,wm), rect(716,580,54,7,wm),
    rect(0,0,870,2,'#000'),
    rect(8,0,2,1747,'#000'),
    rect(9,582.5,861,2,'#000'),
    rect(9,1165.5,861,2,'#000')
  ],
  title: panels.map((p,i)=>({
    text:titles[i], left:438, top:p.titleY, textAlign:'center',
    textStyle:{fontFamily:FONT,fontSize:28,fontWeight:'normal',color:'#000'}
  })),
  grid: panels.map(p=>({left:163.3, width:635, top:p.top, height:GRID_H})),
  xAxis: panels.map((p,i)=>({
    type:'value', gridIndex:i, min:0, max:80, interval:20,
    name:xName, nameLocation:'middle', nameGap:56,
    nameTextStyle:{fontFamily:FONT,fontSize:26.5,color:'#000'},
    axisLine:{show:true,onZero:false,lineStyle:{color:'#000',width:1.6}},
    axisTick:{show:true,length:7,lineStyle:{color:'#000',width:1.6}},
    axisLabel:{fontFamily:FONT,fontSize:25,color:'#000',margin:20},
    splitLine:{show:false}
  })),
  yAxis: panels.map((p,i)=>({
    type:'value', gridIndex:i, min:0, max:35, interval:5,
    name:yName, nameLocation:'middle', nameGap:48, nameRotate:90,
    nameTextStyle:{fontFamily:FONT,fontSize:25.5,color:'#000',padding:[0,9,0,0]},
    axisLine:{show:true,onZero:false,lineStyle:{color:'#000',width:1.6}},
    axisTick:{show:true,length:7,lineStyle:{color:'#000',width:1.6}},
    axisLabel:{fontFamily:FONT,fontSize:25,color:'#000',margin:21},
    splitLine:{show:false}
  })),
  series: panelData.map((d,i)=>({
    type:'scatter', xAxisIndex:i, yAxisIndex:i, data:d,
    symbol:'circle', symbolSize:5.5, itemStyle:{color:'#000',opacity:1},
    large:false, silent:true
  }))
});
</script></body></html>
